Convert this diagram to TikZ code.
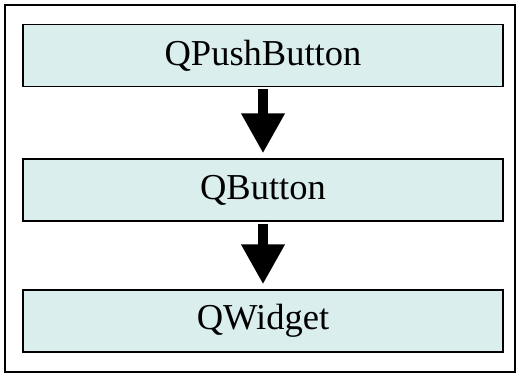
\documentclass[tikz,border=0pt]{standalone}
\usepackage{fontspec}
\setmainfont{Liberation Serif}
\usetikzlibrary{arrows.meta}
\definecolor{boxfill}{RGB}{218,238,238}
\tikzset{
  classbox/.style={draw=black, line width=1.3pt, fill=boxfill, minimum width=480pt, minimum height=62pt, inner sep=0pt, font=\fontsize{36.5}{40}\selectfont},
  inherit/.style={line width=10pt, -{Triangle[width=41pt,length=40pt]}, shorten >=5pt, shorten <=2pt}
}
\begin{document}
\begin{tikzpicture}[x=1pt,y=-1pt]
\useasboundingbox (0,0) rectangle (526,376);
\draw[line width=2pt] (5,5) rectangle (515,372);
\node[classbox] (push) at (263,55.5) {QPushButton};
\node[classbox] (button) at (263,190) {QButton};
\node[classbox] (widget) at (263,321) {QWidget};
\draw[inherit] (push.south) -- (button.north);
\draw[inherit] (button.south) -- (widget.north);
\end{tikzpicture}
\end{document}
